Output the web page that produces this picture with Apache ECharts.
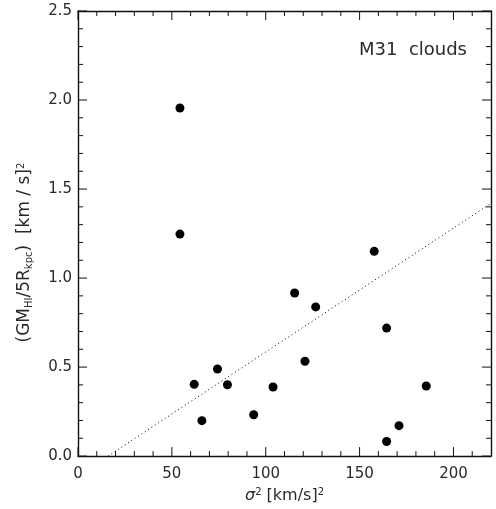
<!DOCTYPE html>
<html><head><meta charset="utf-8">
<script src="https://cdn.jsdelivr.net/npm/echarts@6/dist/echarts.min.js"></script>
<style>html,body{margin:0;padding:0;background:#fff}#c{width:496px;height:509px}</style>
</head><body><div id="c"></div>
<script>
const sigma2 = [54.3, 54.3, 61.9, 74.3, 79.6, 66.0, 93.6, 103.9, 115.4, 120.9, 126.6, 157.8, 164.4, 185.5, 171.0, 164.4];
const gmr = [1.955, 1.247, 0.403, 0.489, 0.401, 0.199, 0.232, 0.388, 0.916, 0.533, 0.838, 1.150, 0.719, 0.394, 0.171, 0.082];
const fitX = [16, 220];
const fitY = [0.0, 1.42];
const xRange = [0, 220];
const yRange = [0, 2.5];
const xTicks = [0, 50, 100, 150, 200];
const xMinorTicks = [10, 20, 30, 40, 60, 70, 80, 90, 110, 120, 130, 140, 160, 170, 180, 190, 210];
const yTicks = [0.0, 0.5, 1.0, 1.5, 2.0, 2.5];
const yMinorTicks = [0.1, 0.2, 0.3, 0.4, 0.6, 0.7, 0.8, 0.9, 1.1, 1.2, 1.3, 1.4, 1.6, 1.7, 1.8, 1.9, 2.1, 2.2, 2.3, 2.4];
const label = 'M31  clouds';

const font = 'DejaVu Sans, Verdana, sans-serif';
const tc = '#2a2a2a';
const ax = '#111';
const MAJ = 9, MIN = 5;

const tickItems = [];
xTicks.forEach(v => tickItems.push([v, yRange[0], 0, MAJ]));
xMinorTicks.forEach(v => tickItems.push([v, yRange[0], 0, MIN]));
yTicks.forEach(v => tickItems.push([xRange[0], v, 1, MAJ]));
yMinorTicks.forEach(v => tickItems.push([xRange[0], v, 1, MIN]));

const chart = echarts.init(document.getElementById('c'));
function mk(extra) {
  return Object.assign({
    type: 'value',
    axisLine: {show: true, onZero: false, lineStyle: {color: ax, width: 1.4}},
    axisTick: {show: false},
    minorTick: {show: false},
    splitLine: {show: false}
  }, extra);
}
function seg(x1, y1, x2, y2) {
  return {type: 'line', shape: {x1, y1, x2, y2}, style: {stroke: ax, lineWidth: 1}};
}
chart.setOption({
  animation: false,
  grid: {left: 78, right: 5, top: 11, bottom: 50},
  xAxis: [
    mk({min: xRange[0], max: xRange[1], interval: 50, position: 'bottom',
      axisLabel: {color: tc, fontFamily: font, fontSize: 15, margin: 11,
        formatter: v => xTicks.includes(v) ? String(v) : ''},
      name: '{it|σ}{sup|2} [km/s]{sup|2}', nameLocation: 'middle', nameGap: 30,
      nameTextStyle: {color: tc, fontFamily: font, fontSize: 16,
        rich: {it: {fontStyle: 'italic', fontSize: 16, fontFamily: font, color: tc},
               sup: {fontSize: 10, verticalAlign: 'top', fontFamily: font, color: tc, padding: [0,0,8,0]}}}
    }),
    mk({min: xRange[0], max: xRange[1], interval: 50, position: 'top', axisLabel: {show: false}})
  ],
  yAxis: [
    mk({min: yRange[0], max: yRange[1], interval: 0.5, position: 'left',
      axisLabel: {color: tc, fontFamily: font, fontSize: 15, margin: 6,
        formatter: v => yTicks.includes(v) ? v.toFixed(1) : ''},
      name: '(GM{sub|HI}/5R{sub|kpc})  [km / s]{sup|2}', nameLocation: 'middle', nameGap: 44, nameRotate: 90,
      nameTextStyle: {color: tc, fontFamily: font, fontSize: 17, padding: [0, 38, 0, 0],
        rich: {sub: {fontSize: 10, fontFamily: font, color: tc, verticalAlign: 'bottom', padding: [7,0,0,0]},
               sup: {fontSize: 10, fontFamily: font, color: tc, verticalAlign: 'top', padding: [0,0,8,0]}}}
    }),
    mk({min: yRange[0], max: yRange[1], interval: 0.5, position: 'right', axisLabel: {show: false}})
  ],
  series: [
    {type: 'custom', xAxisIndex: 0, yAxisIndex: 0, silent: true, clip: false, z: 4,
     data: tickItems,
     renderItem: function (params, api) {
       const o = api.value(2), L = api.value(3);
       if (o === 0) {
         const v = api.value(0);
         const b = api.coord([v, yRange[0]]), t = api.coord([v, yRange[1]]);
         return {type: 'group', children: [seg(b[0], b[1], b[0], b[1] - L), seg(t[0], t[1], t[0], t[1] + L)]};
       }
       const v = api.value(1);
       const l = api.coord([xRange[0], v]), r = api.coord([xRange[1], v]);
       return {type: 'group', children: [seg(l[0], l[1], l[0] + L, l[1]), seg(r[0], r[1], r[0] - L, r[1])]};
     }},
    {type: 'scatter', xAxisIndex: 0, yAxisIndex: 0, data: sigma2.map((x, i) => [x, gmr[i]]), symbol: 'circle', symbolSize: 9,
     itemStyle: {color: '#000', opacity: 1}, z: 5},
    {type: 'line', xAxisIndex: 0, yAxisIndex: 0, data: fitX.map((x, i) => [x, fitY[i]]), showSymbol: false, symbol: 'none',
     lineStyle: {color: '#000', width: 1, type: [1, 3]}, z: 3}
  ],
  graphic: [{type: 'text', right: 29, top: 41,
    style: {text: label, fontFamily: font, fontSize: 18, fill: tc}}]
});
</script></body></html>
